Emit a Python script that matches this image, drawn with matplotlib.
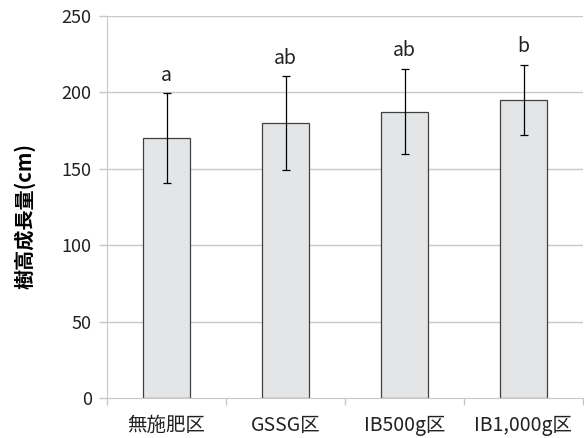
import matplotlib
matplotlib.use("Agg")
import matplotlib.pyplot as plt
import numpy as np

plt.rcParams['font.family'] = ['Noto Sans CJK JP', 'DejaVu Sans']

categories = ["無施肥区", "GSSG区", "IB500g区", "IB1,000g区"]
values = [170, 180, 187.5, 195]
errors = [29.5, 30.5, 28, 23]
letters = ["a", "ab", "ab", "b"]
yticks = [0, 50, 100, 150, 200, 250]

fig = plt.figure(figsize=(5.84, 4.38), dpi=100)
ax = fig.add_axes([107/584, 40/438, 476/584, 382/438])

x = np.arange(len(categories))
grid_c = "#c8c8c8"
ax.set_axisbelow(True)
for t in yticks[1:]:
    ax.axhline(t, color=grid_c, lw=1, zorder=0)
ax.bar(x, values, width=0.4, color="#e4e5e7", edgecolor="#404040", linewidth=0.9, zorder=2)
ax.errorbar(x, values, yerr=errors, fmt="none", ecolor="black", elinewidth=0.9,
            capsize=3, capthick=0.9, zorder=3)
for xi, v, e, l in zip(x, values, errors, letters):
    ax.text(xi, v + e + 5, l, ha="center", va="bottom", fontsize=14, color="#222222")

ax.set_xlim(-0.5, len(categories) - 0.5)
ax.set_ylim(0, 250)
ax.set_yticks(yticks)
ax.set_yticklabels([str(t) for t in yticks], fontsize=13, color="#222222")
ax.set_xticks(x)
ax.set_xticklabels(categories, fontsize=14, color="#222222")
ax.set_xticks(np.arange(len(categories) + 1) - 0.5, minor=True)
ax.tick_params(axis="x", which="major", length=0, pad=12)
ax.tick_params(axis="x", which="minor", length=5, color=grid_c, width=1)
ax.tick_params(axis="y", length=6, color=grid_c, width=1, pad=5)

for s in ["top", "right"]:
    ax.spines[s].set_visible(False)
ax.spines["left"].set_color(grid_c)
ax.spines["bottom"].set_color(grid_c)

ax.set_ylabel("樹高成長量(cm)", fontsize=14.5, fontweight="bold", va="center", ha="center")
ax.yaxis.set_label_coords(-82/476, 0.476)

fig.savefig("out.png", dpi=100)
